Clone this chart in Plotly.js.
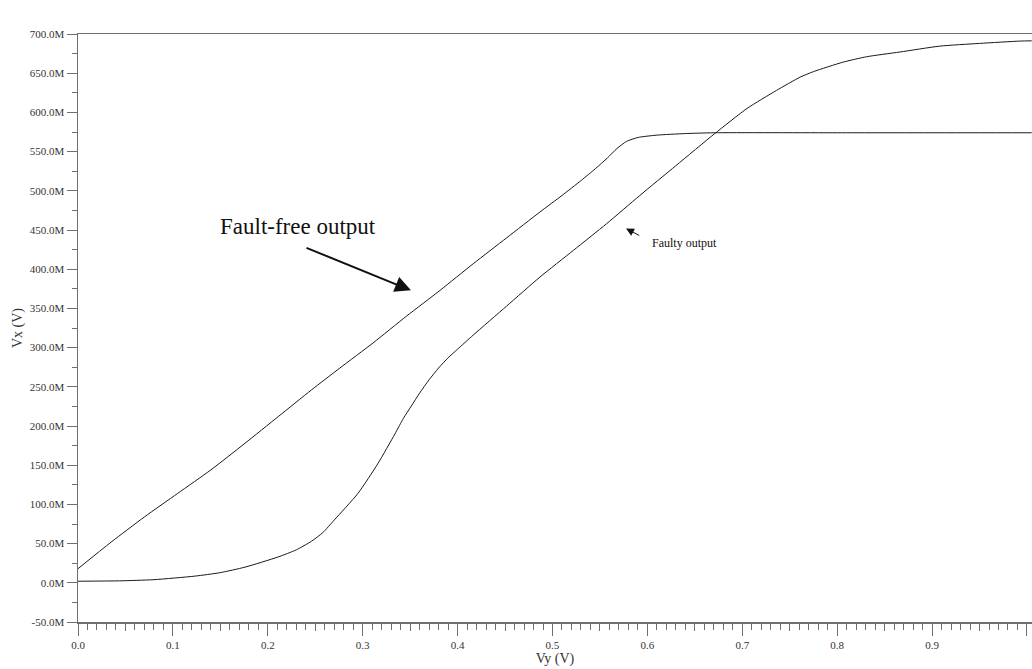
<!DOCTYPE html>
<html>
<head>
<meta charset="utf-8">
<script src="https://cdn.plot.ly/plotly-3.0.1.min.js"></script>
<style>html,body{margin:0;padding:0;background:#fff;}#chart{width:1032px;height:669px;}</style>
</head>
<body>
<div id="chart"></div>
<script>
// Vy (V)
var faultFreeVy = [0, 0.035, 0.070, 0.105, 0.140, 0.176, 0.211, 0.246, 0.276, 0.311, 0.346, 0.3815, 0.4165, 0.4517, 0.4868, 0.51, 0.53, 0.545, 0.558, 0.568, 0.578, 0.59, 0.61, 0.64, 0.67, 0.80, 0.90, 1.005];
// Vx (mV, shown with "M" suffix)
var faultFreeVx = [18, 52, 84, 114, 144, 178, 212, 246, 274, 306, 340, 373, 407, 440, 473, 494, 513, 528, 542, 554, 563, 568, 571, 573, 574, 574, 574, 574];

var faultyVy = [0, 0.044, 0.08, 0.123, 0.15, 0.176, 0.211, 0.23, 0.246, 0.258, 0.27, 0.295, 0.316, 0.334, 0.343, 0.351, 0.36, 0.37, 0.38, 0.39, 0.40, 0.4165, 0.4517, 0.4868, 0.522, 0.557, 0.592, 0.63, 0.671, 0.705, 0.736, 0.761, 0.775, 0.806, 0.831, 0.866, 0.908, 0.95, 0.993, 1.005];
var faultyVx = [2, 2.5, 4, 8.5, 13, 20, 33, 42, 53, 64, 80, 114, 152, 190, 210, 225, 242, 259, 274, 287, 298, 316, 353, 390, 424, 458, 494, 532, 573, 605, 628, 645, 652, 664, 671, 677, 684.5, 688, 691, 691.3];

var xTickVals = [0, 0.1, 0.2, 0.3, 0.4, 0.5, 0.6, 0.7, 0.8, 0.9, 1.0];
var xTickText = ["0.0", "0.1", "0.2", "0.3", "0.4", "0.5", "0.6", "0.7", "0.8", "0.9", "1.0"];
var xMidTickVals = [0.05, 0.15, 0.25, 0.35, 0.45, 0.55, 0.65, 0.75, 0.85, 0.95];
var yTickVals = [-50, 0, 50, 100, 150, 200, 250, 300, 350, 400, 450, 500, 550, 600, 650, 700];
var yTickText = ["-50.0M", "0.0M", "50.0M", "100.0M", "150.0M", "200.0M", "250.0M", "300.0M", "350.0M", "400.0M", "450.0M", "500.0M", "550.0M", "600.0M", "650.0M", "700.0M"];

var serif = "Liberation Serif, Times New Roman, serif";
var axisColor = "#6e6e6e";
var lineStyle = {color: "#1a1a1a", width: 1, shape: "spline", smoothing: 0.6};

var traces = [
  {x: faultFreeVy, y: faultFreeVx, mode: "lines", line: lineStyle, name: "Fault-free output", hoverinfo: "skip"},
  {x: faultyVy, y: faultyVx, mode: "lines", line: lineStyle, name: "Faulty output", hoverinfo: "skip"},
  {x: [0.5], y: [-1000], mode: "markers", xaxis: "x2", yaxis: "y", marker: {opacity: 0}, showlegend: false, hoverinfo: "skip"}
];

var xRange = [0, 1.0053];
var layout = {
  width: 1032, height: 669,
  margin: {l: 78, r: 0, t: 34, b: 47, pad: 0},
  paper_bgcolor: "#ffffff", plot_bgcolor: "#ffffff",
  showlegend: false,
  font: {family: serif, color: "#333"},
  xaxis: {
    range: xRange, tickmode: "array", tickvals: xTickVals, ticktext: xTickText,
    ticks: "outside", ticklen: 12, tickwidth: 1, tickcolor: axisColor,
    showline: true, linecolor: axisColor, linewidth: 1.5, mirror: true,
    showgrid: false, zeroline: false,
    tickfont: {family: serif, size: 11, color: "#333"},
    minor: {tickmode: "linear", tick0: 0, dtick: 0.01, ticks: "outside", ticklen: 6, tickcolor: axisColor, tickwidth: 1, showgrid: false},
    title: {text: "Vy (V)", font: {family: serif, size: 14, color: "#333"}, standoff: 0}
  },
  xaxis2: {
    range: xRange, overlaying: "x", anchor: "y", side: "bottom",
    tickmode: "array", tickvals: xMidTickVals, showticklabels: false,
    ticks: "outside", ticklen: 8, tickwidth: 1, tickcolor: axisColor,
    showline: false, showgrid: false, zeroline: false
  },
  yaxis: {
    range: [-50, 700], tickmode: "array", tickvals: yTickVals, ticktext: yTickText,
    ticks: "outside", ticklen: 10, tickwidth: 1, tickcolor: axisColor,
    showline: true, linecolor: axisColor, linewidth: 1.5,
    showgrid: false, zeroline: false,
    tickfont: {family: serif, size: 11, color: "#333"},
    minor: {tickmode: "linear", tick0: -50, dtick: 25, ticks: "outside", ticklen: 5, tickcolor: axisColor, tickwidth: 1, showgrid: false},
    title: {text: "Vx (V)", font: {family: serif, size: 14, color: "#333"}, standoff: 4}
  },
  annotations: [
    {x: 0.2319, y: 455, xref: "x", yref: "y", text: "Fault-free output", showarrow: false,
     font: {family: serif, size: 23, color: "#111"}},
    {x: 0.3509, y: 373, ax: 0.2392, ay: 428, xref: "x", yref: "y", axref: "x", ayref: "y",
     text: "", showarrow: true, arrowhead: 2, arrowsize: 1.6, arrowwidth: 2, arrowcolor: "#111"},
    {x: 0.6386, y: 434, xref: "x", yref: "y", text: "Faulty output", showarrow: false,
     font: {family: serif, size: 12, color: "#111"}},
    {x: 0.5775, y: 452, ax: 0.593, ay: 442, xref: "x", yref: "y", axref: "x", ayref: "y",
     text: "", showarrow: true, arrowhead: 2, arrowsize: 1.6, arrowwidth: 1, arrowcolor: "#111"}
  ]
};

Plotly.newPlot("chart", traces, layout, {staticPlot: true, displayModeBar: false});
</script>
</body>
</html>
